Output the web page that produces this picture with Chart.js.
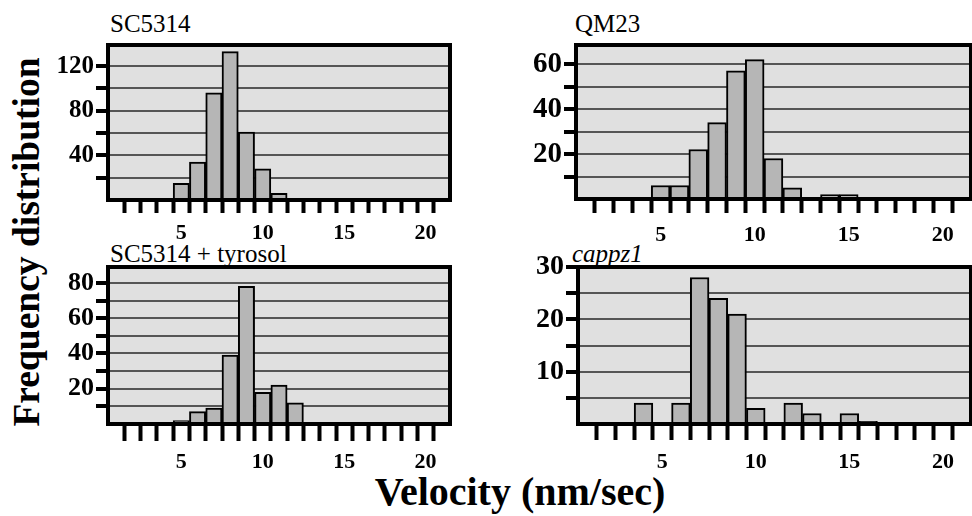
<!DOCTYPE html>
<html>
<head>
<meta charset="utf-8">
<script src="https://cdn.jsdelivr.net/npm/chart.js@4.4.0/dist/chart.umd.min.js"></script>
<style>
  html, body { margin: 0; padding: 0; background: #fff; }
  body { width: 972px; height: 516px; position: relative; overflow: hidden;
         font-family: "Liberation Serif", "Times New Roman", serif; color: #000; }
  canvas { position: absolute; }
  .title { position: absolute; font-size: 25px; line-height: 25px; white-space: nowrap; }
  .axis { position: absolute; font-family: "Liberation Serif", serif; font-weight: bold; white-space: nowrap; }
</style>
</head>
<body>
<div class="title" style="left:110px; top:11px;">SC5314</div>
<div class="title" style="left:575px; top:11px;">QM23</div>
<div class="title" style="left:110px; top:241px;">SC5314 + tyrosol</div>
<div class="title" style="left:572px; top:241px; font-style:italic;">cappz1</div>
<div class="axis" style="left:27px; top:242px; font-size:37.5px; line-height:37.5px; transform:translate(-50%,-50%) rotate(-90deg);">Frequency distribution</div>
<div class="axis" style="left:520px; top:472px; font-size:40px; line-height:40px; transform:translateX(-50%);">Velocity (nm/sec)</div>
<canvas id="c0"></canvas>
<canvas id="c1"></canvas>
<canvas id="c2"></canvas>
<canvas id="c3"></canvas>
<script>
// velocity bins (nm/sec)
const bins = ['1','2','3','4','5','6','7','8','9','10','11','12','13','14','15','16','17','18','19','20','21'];
const xTickLabels = ['5', '10', '15', '20'];

// counts per bin
const sc5314        = [0, 0, 0, 1, 15, 34, 96, 133, 61, 28, 6, 1, 0, 0, 0, 1, 0, 0, 0, 0, 0];
const qm23          = [0, 0, 0, 0, 6, 6, 22, 34, 57, 62, 18, 5, 0, 2, 2, 0.5, 0, 0.5, 0, 0, 0];
const sc5314Tyrosol = [0, 0, 0, 0, 2, 7, 9, 39, 78, 18, 22, 12, 0, 0, 0, 0, 0, 0, 0, 0, 0];
const cappz1        = [0, 0, 0.3, 4, 0.3, 4, 28, 24, 21, 3, 0.3, 4, 2, 0, 2, 0.5, 0, 0, 0, 0, 0];

const yLabelsSc5314  = [40, 80, 120];
const yLabelsQm23    = [20, 40, 60];
const yLabelsTyrosol = [20, 40, 60, 80];
const yLabelsCappz1  = [10, 20, 30];

// box = [left, top, right, bottom] of the plot frame on the page
const panels = [
  { id: 'c0', data: sc5314, yLabels: yLabelsSc5314, yMax: 139, yStep: 20, yFont: 25,
    box: [108, 45, 450, 200], xTick: 13, xPad: 7 },
  { id: 'c1', data: qm23, yLabels: yLabelsQm23, yMax: 68.5, yStep: 10, yFont: 29,
    box: [576, 45, 971, 199], xTick: 14, xPad: 9 },
  { id: 'c2', data: sc5314Tyrosol, yLabels: yLabelsTyrosol, yMax: 89, yStep: 10, yFont: 26,
    box: [108, 267, 450, 424], xTick: 17, xPad: 8 },
  { id: 'c3', data: cappz1, yLabels: yLabelsCappz1, yMax: 30, yStep: 5, yFont: 28,
    box: [578, 267, 971, 424], xTick: 16, xPad: 9 }
];

const Y_W = 80, PAD_TOP = 20, PAD_RIGHT = 4, X_H = 55;
const clear = 'rgba(0,0,0,0)';

// plot-area background and heavy frame
const frame = {
  id: 'frame',
  beforeDraw(chart) {
    const { ctx, chartArea: a } = chart;
    ctx.save();
    ctx.fillStyle = '#e0e0e0';
    ctx.fillRect(a.left, a.top, a.width, a.height);
    ctx.restore();
  },
  afterDraw(chart) {
    const { ctx, chartArea: a } = chart;
    ctx.save();
    ctx.strokeStyle = '#000';
    ctx.lineWidth = 4;
    ctx.strokeRect(a.left, a.top, a.width, a.height);
    ctx.restore();
  }
};

panels.forEach(p => {
  const [l, t, r, b] = p.box;
  const canvas = document.getElementById(p.id);
  canvas.width = Y_W + (r - l) + PAD_RIGHT;
  canvas.height = PAD_TOP + (b - t) + X_H;
  canvas.style.left = (l - Y_W) + 'px';
  canvas.style.top = (t - PAD_TOP) + 'px';

  new Chart(canvas, {
    type: 'bar',
    data: {
      labels: bins,
      datasets: [{
        data: p.data,
        backgroundColor: '#b6b6b6',
        borderColor: '#000',
        borderWidth: 2,
        barPercentage: 1,
        categoryPercentage: 1
      }]
    },
    options: {
      responsive: false,
      animation: false,
      devicePixelRatio: 1,
      layout: { padding: { top: PAD_TOP, right: PAD_RIGHT, left: 0, bottom: 0 } },
      plugins: { legend: { display: false }, tooltip: { enabled: false } },
      scales: {
        x: {
          afterFit: s => { s.height = X_H; },
          border: { display: false },
          grid: {
            offset: true,
            drawOnChartArea: false,
            drawTicks: true,
            tickLength: p.xTick,
            tickWidth: 4,
            tickColor: c => (c.type === 'tick' && c.index > 0) ? '#000' : clear
          },
          ticks: {
            autoSkip: false,
            maxRotation: 0,
            padding: p.xPad,
            color: '#000',
            font: { family: '"Liberation Serif", serif', size: 22, weight: 'bold' },
            callback: (v, i) => xTickLabels.includes(bins[i]) ? bins[i] : ''
          }
        },
        y: {
          min: 0,
          max: p.yMax,
          afterFit: s => { s.width = Y_W; },
          border: { display: false },
          grid: {
            color: c => (c.tick && c.tick.value === 0) ? clear : '#555',
            lineWidth: 2,
            drawTicks: true,
            tickLength: 12,
            tickWidth: 4,
            tickColor: c => (c.tick && c.tick.value === 0) ? clear : '#000'
          },
          ticks: {
            stepSize: p.yStep,
            includeBounds: false,
            autoSkip: false,
            padding: 2,
            color: '#000',
            font: { family: '"Liberation Serif", serif', size: p.yFont, weight: 'bold' },
            callback: v => p.yLabels.includes(v) ? String(v) : ''
          }
        }
      }
    },
    plugins: [frame]
  });
});
</script>
</body>
</html>
